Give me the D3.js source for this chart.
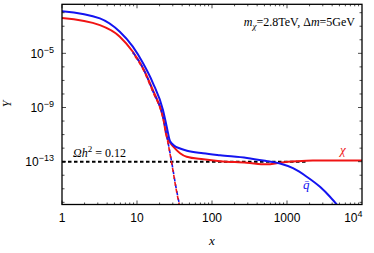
<!DOCTYPE html>
<html>
<head>
<meta charset="utf-8">
<script src="https://cdn.jsdelivr.net/npm/d3@7"></script>
<style>
  html, body { margin: 0; padding: 0; background: #fff; }
  svg { display: block; }
</style>
</head>
<body>
<div id="chart"></div>
<script>
// Values
var blueX = [1, 3.2, 5.9, 8.8, 12, 16.3, 22.2, 25.1, 27.5, 31.1, 37.5, 46.4, 75.9, 128, 293, 541, 807, 1202, 1832, 2754, 3743, 4786];
var blueY = [1.3e-2, 3.8e-3, 3.9e-4, 3.1e-5, 1.9e-6, 6.4e-8, 6.6e-10, 3.1e-11, 3.4e-12, 1.6e-12, 9.4e-13, 6.4e-13, 4.2e-13, 3.0e-13, 1.9e-13, 1.1e-13, 7.4e-14, 3.3e-14, 7.8e-15, 1.4e-15, 2.6e-16, 5.4e-17];

var redX = [1, 3.2, 5.9, 8.8, 12, 16.3, 22.2, 24.9, 27.5, 30.5, 37.5, 46, 76.6, 128, 290, 536, 807, 1347, 2210, 10000];
var redY = [4.0e-3, 1.2e-3, 1.7e-4, 1.3e-5, 8.3e-7, 1.9e-8, 2.0e-10, 7.0e-12, 2.6e-12, 1.3e-12, 4.2e-13, 2.3e-13, 1.5e-13, 1.1e-13, 8.5e-14, 6.4e-14, 8.5e-14, 1.07e-13, 1.2e-13, 1.2e-13];

// equilibrium (dashed) curves
var eqX = [8.8, 12, 16.3, 22.2, 25.9, 29.3, 33.1, 36.9];
var eqBlueY = [1.2e-5, 8e-7, 1.6e-8, 2e-10, 2.8e-12, 6.8e-14, 1.3e-15, 6.5e-17];
var eqRedY = [1.0e-5, 6.9e-7, 1.4e-8, 1.7e-10, 2.4e-12, 5.8e-14, 1.1e-15, 5.4e-17];

// relic abundance line
var omegaY = 1e-13;
var omegaX = [1, 1900];

var xTicks = [1, 10, 100, 1000, 10000];
var xTickLabels = ["1", "10", "100", "1000", ["10", "4"]];
var yTicks = [1e-5, 1e-9, 1e-13];
var yTickLabels = [["10", "\u22125"], ["10", "\u22129"], ["10", "\u221213"]];

var W = 374, H = 253;
var margin = { top: 4.3, right: 12, bottom: 48.5, left: 62 };
var width = W - margin.left - margin.right;
var height = H - margin.top - margin.bottom;

var sans = "Liberation Sans";
var serif = "Liberation Serif";

var x = d3.scaleLog().domain([1, 1e4]).range([0, width]);
var y = d3.scaleLog().domain([Math.pow(10, -16.16), Math.pow(10, -1.38)]).range([height, 0]);

var svg = d3.select("#chart").append("svg")
  .attr("width", W)
  .attr("height", H);

svg.append("defs").append("clipPath").attr("id", "clip")
  .append("rect").attr("width", width).attr("height", height);

var g = svg.append("g")
  .attr("transform", "translate(" + margin.left + "," + margin.top + ")");

var zip = function(xs, ys) {
  return xs.map(function(v, i) { return { x: v, y: ys[i] }; });
};

var line = d3.line()
  .x(function(d) { return x(d.x); })
  .y(function(d) { return y(d.y); })
  .curve(d3.curveMonotoneX);

var plot = g.append("g").attr("clip-path", "url(#clip)");

// Omega h^2 line
plot.append("path")
  .attr("d", line(zip(omegaX, [omegaY, omegaY])))
  .attr("fill", "none")
  .attr("stroke", "#000")
  .attr("stroke-width", 2)
  .attr("stroke-dasharray", "3.5,2.5");

// solid curves
plot.append("path")
  .attr("d", line(zip(redX, redY)))
  .attr("fill", "none")
  .attr("stroke", "#f01414")
  .attr("stroke-width", 2);

plot.append("path")
  .attr("d", line(zip(blueX, blueY)))
  .attr("fill", "none")
  .attr("stroke", "#1414f0")
  .attr("stroke-width", 2);

// equilibrium curves
plot.append("path")
  .attr("d", line(zip(eqX, eqBlueY)))
  .attr("fill", "none")
  .attr("stroke", "#1414f0")
  .attr("stroke-width", 1.6)
  .attr("stroke-dasharray", "4,3");

plot.append("path")
  .attr("d", line(zip(eqX, eqRedY)))
  .attr("fill", "none")
  .attr("stroke", "#f01414")
  .attr("stroke-width", 1.6)
  .attr("stroke-dasharray", "4,3")
  .attr("stroke-dashoffset", 3.5);

// ticks (inward, on all four sides)
var ticks = g.append("g").attr("stroke", "#000").attr("stroke-width", 0.7);
for (var e = 0; e < 4; e++) {
  for (var m = 1; m <= 9; m++) {
    var v = m * Math.pow(10, e);
    var len = m === 1 ? 4 : 2;
    ticks.append("line").attr("x1", x(v)).attr("x2", x(v)).attr("y1", height).attr("y2", height - len);
    ticks.append("line").attr("x1", x(v)).attr("x2", x(v)).attr("y1", 0).attr("y2", len);
  }
}
for (var k = -16; k <= -2; k++) {
  var yl = (k === -5 || k === -9 || k === -13) ? 4 : 2.5;
  var yy = y(Math.pow(10, k));
  ticks.append("line").attr("x1", 0).attr("x2", yl).attr("y1", yy).attr("y2", yy);
  ticks.append("line").attr("x1", width).attr("x2", width - yl).attr("y1", yy).attr("y2", yy);
}

// frame
g.append("rect")
  .attr("width", width)
  .attr("height", height)
  .attr("fill", "none")
  .attr("stroke", "#000")
  .attr("stroke-width", 1.3);

// x tick labels
xTicks.forEach(function(v, i) {
  var lab = xTickLabels[i];
  var t = g.append("text")
    .attr("font-family", sans)
    .attr("y", height + 17.5)
    .attr("font-size", 12)
    .attr("fill", "#000");
  if (typeof lab === "string") {
    t.attr("x", x(v)).attr("text-anchor", "middle").text(lab);
  } else {
    t.attr("x", x(v) + 0.5).attr("text-anchor", "end");
    t.append("tspan").text(lab[0]);
    t.append("tspan").attr("font-size", 9).attr("dy", -5).text(lab[1]);
  }
});

// y tick labels
yTicks.forEach(function(v, i) {
  var lab = yTickLabels[i];
  var t = g.append("text")
    .attr("font-family", sans)
    .attr("x", -8)
    .attr("y", y(v) + 4.3)
    .attr("text-anchor", "end")
    .attr("font-size", 12)
    .attr("fill", "#000");
  t.append("tspan").text(lab[0]);
  t.append("tspan").attr("font-size", 9).attr("dy", -5).text(lab[1]);
});

// axis titles
svg.append("text")
  .attr("font-family", serif)
  .attr("x", 212)
  .attr("y", 245)
  .attr("text-anchor", "middle")
  .attr("font-style", "italic")
  .attr("font-size", 13)
  .text("x");

svg.append("text")
  .attr("font-family", serif)
  .attr("transform", "translate(10.5,104) rotate(-90)")
  .attr("text-anchor", "middle")
  .attr("font-style", "italic")
  .attr("font-size", 12)
  .text("Y");

// annotation top right
var ann = svg.append("text")
  .attr("font-family", serif)
  .attr("x", 355)
  .attr("y", 26)
  .attr("text-anchor", "end")
  .attr("font-size", 12);
ann.append("tspan").attr("font-style", "italic").text("m");
ann.append("tspan").attr("font-style", "italic").attr("font-size", 9).attr("dy", 3).text("\u03c7");
ann.append("tspan").attr("dy", -3).text("=2.8TeV, \u0394");
ann.append("tspan").attr("font-style", "italic").text("m");
ann.append("tspan").text("=5GeV");

// Omega h^2 label
var om = svg.append("text")
  .attr("font-family", serif)
  .attr("x", 73)
  .attr("y", 157)
  .attr("font-size", 12);
om.append("tspan").attr("font-style", "italic").text("\u03a9h");
om.append("tspan").attr("font-size", 9).attr("dy", -5).text("2");
om.append("tspan").attr("dy", 5).text(" = 0.12");

// curve labels
svg.append("text")
  .attr("font-family", serif)
  .attr("x", 340)
  .attr("y", 154)
  .attr("font-style", "italic")
  .attr("font-size", 13)
  .attr("fill", "#f01414")
  .text("\u03c7");

svg.append("text")
  .attr("font-family", serif)
  .attr("x", 303)
  .attr("y", 189)
  .attr("font-style", "italic")
  .attr("font-size", 13)
  .attr("fill", "#1414f0")
  .text("q\u0304");
</script>
</body>
</html>
